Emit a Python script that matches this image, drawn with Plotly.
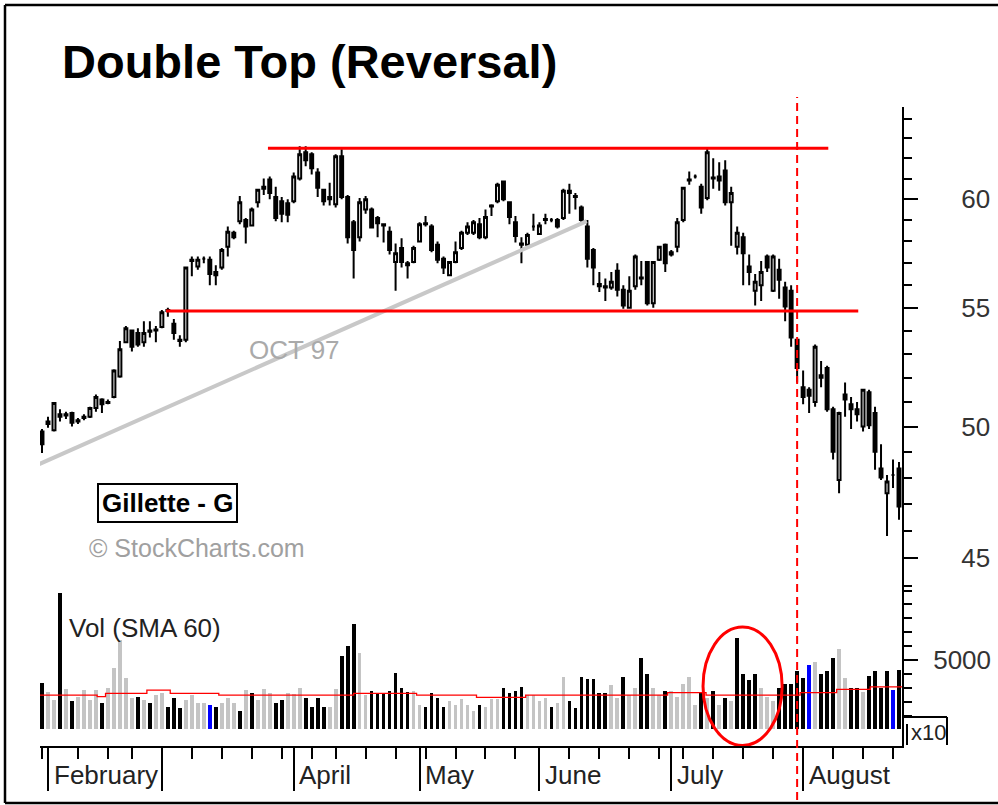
"""Double Top (Reversal) — Gillette daily candles with volume panel."""

import numpy as np
import pandas as pd
import plotly.graph_objects as go

START = "1998-01-30"
HOLIDAYS = ["1998-02-16", "1998-04-10", "1998-05-25", "1998-07-03"]

OPEN = [
    49.8, 50.1, 49.85, 50.5, 50.45, 50.55, 50.2, 50.35, 50.4, 50.75,
    51.1, 50.95, 51.2, 52.05, 53.5, 54.0, 53.9, 53.5, 53.95, 54.0,
    54.15, 54.9, 54.3, 53.55, 53.6, 57.1, 56.85, 57.2, 57.15, 56.6,
    56.8, 57.75, 58.4, 58.95, 59.0, 58.75, 59.85, 60.5, 60.95, 60.1,
    59.9, 59.8, 59.9, 61.0, 62.3, 62.2, 61.3, 60.45, 60.1, 59.75,
    62.1, 60.1, 58.9, 58.2, 59.5, 59.5, 59.1, 58.8, 58.45, 57.05,
    57.7, 57.0, 57.05, 58.0, 58.8, 58.7, 57.85, 57.2, 56.45, 57.05,
    57.7, 58.4, 58.4, 58.8, 58.2, 59.65, 59.9, 60.85, 59.85, 58.9,
    57.9, 57.85, 58.7, 58.35, 59.0, 59.0, 59.0, 59.1, 60.3, 60.15,
    59.6, 58.7, 57.6, 56.05, 55.95, 55.9, 56.65, 55.8, 55.0, 55.95,
    56.3, 57.05, 55.2, 57.15, 57.85, 57.4, 57.75, 59.0, 60.9, 61.1,
    60.6, 60.05, 61.0, 61.1, 61.4, 59.85, 57.75, 58.2, 56.85, 55.75,
    56.0, 57.3, 55.75, 56.7, 55.9, 55.75, 53.6, 51.6, 51.5, 51.0,
    52.1, 52.4, 50.7, 47.9, 51.3, 50.9, 50.7, 50.0, 51.4, 50.55,
    48.35, 47.4, 48.1, 48.35,
]
HIGH = [
    49.9, 50.4, 51.0, 50.7, 50.6, 50.6, 50.35, 50.5, 50.8, 51.3,
    51.15, 51.1, 52.35, 53.55, 54.2, 54.05, 54.1, 54.4, 54.4, 54.2,
    54.9, 55.0, 54.5, 53.8, 56.85, 57.3, 57.3, 57.3, 57.3, 56.9,
    57.7, 58.7, 58.5, 60.15, 59.1, 59.6, 60.5, 61.0, 61.1, 60.6,
    60.1, 60.0, 61.3, 62.6, 62.6, 62.3, 61.5, 60.5, 60.8, 62.2,
    62.45, 60.2, 59.0, 60.05, 60.15, 59.6, 59.2, 58.85, 58.7, 57.9,
    58.15, 57.1, 57.8, 58.9, 59.2, 58.8, 58.0, 57.3, 57.1, 58.0,
    58.5, 58.9, 59.0, 59.1, 59.5, 59.75, 60.8, 60.9, 59.9, 59.2,
    58.2, 58.4, 59.3, 58.9, 59.3, 59.1, 59.1, 60.5, 60.75, 60.3,
    59.7, 59.0, 57.7, 56.6, 56.3, 56.6, 57.0, 56.0, 56.4, 57.4,
    57.1, 57.1, 57.1, 57.8, 57.9, 57.6, 59.1, 60.6, 61.35, 61.2,
    60.75, 62.5, 62.0, 61.8, 61.9, 60.6, 58.7, 58.4, 57.4, 56.5,
    57.1, 57.4, 57.4, 57.2, 56.15, 56.0, 53.6, 52.3, 51.6, 53.4,
    52.7, 52.5, 50.8, 50.6, 51.8, 51.2, 51.0, 51.5, 51.5, 50.8,
    49.3, 48.1, 48.7, 48.6,
]
LOW = [
    48.95, 49.95, 49.8, 50.2, 50.3, 50.0, 50.1, 50.25, 50.35, 50.6,
    50.55, 50.9, 51.15, 52.0, 53.45, 53.1, 53.3, 53.3, 53.7, 53.5,
    54.1, 54.6, 53.6, 53.3, 53.5, 56.4, 56.7, 57.0, 56.0, 56.0,
    56.7, 57.3, 58.1, 58.8, 57.9, 58.7, 59.6, 60.2, 60.0, 58.95,
    58.9, 58.9, 59.8, 60.9, 61.6, 61.2, 60.1, 59.7, 59.7, 59.6,
    60.0, 57.9, 56.3, 58.0, 59.3, 58.6, 58.2, 57.95, 57.4, 55.75,
    56.8, 56.3, 57.0, 57.95, 58.7, 57.5, 57.0, 56.5, 56.4, 57.0,
    57.6, 58.3, 58.3, 58.1, 58.1, 59.2, 59.8, 59.9, 58.8, 57.95,
    57.0, 57.8, 58.5, 58.3, 58.8, 58.9, 58.6, 59.0, 59.3, 59.5,
    58.9, 56.8, 56.0, 55.7, 55.3, 55.8, 55.5, 54.95, 54.95, 55.8,
    56.0, 55.1, 55.0, 57.1, 56.6, 57.3, 57.5, 58.9, 60.7, 61.0,
    59.3, 59.95, 60.5, 60.4, 59.7, 57.8, 57.4, 56.0, 56.0, 55.1,
    55.3, 56.6, 55.7, 55.4, 54.4, 53.3, 51.8, 50.9, 50.55, 50.8,
    51.6, 50.6, 48.7, 47.4, 50.4, 49.9, 50.2, 49.8, 49.9, 48.3,
    47.9, 45.8, 47.6, 46.4,
]
CLOSE = [
    49.3, 50.2, 50.95, 50.4, 50.5, 50.15, 50.25, 50.4, 50.75, 51.2,
    50.9, 51.0, 52.3, 53.2, 54.1, 53.3, 53.4, 53.9, 54.0, 54.05,
    54.8, 54.85, 53.9, 53.6, 56.8, 57.15, 57.15, 57.2, 56.5, 56.45,
    57.6, 58.45, 58.2, 59.85, 58.7, 59.5, 60.45, 60.6, 60.3, 59.1,
    59.3, 59.25, 61.1, 62.2, 61.9, 61.5, 60.55, 59.9, 60.0, 62.1,
    60.1, 58.2, 57.6, 59.85, 60.0, 58.65, 58.85, 58.75, 57.6, 57.45,
    57.05, 56.9, 57.7, 58.8, 58.85, 57.6, 57.15, 56.8, 57.05, 57.5,
    58.4, 58.7, 58.9, 58.2, 59.15, 59.7, 60.7, 60.0, 59.15, 58.25,
    57.85, 58.3, 58.7, 58.75, 59.05, 59.0, 58.7, 60.4, 60.4, 60.1,
    59.0, 57.2, 56.8, 55.95, 55.9, 56.15, 55.8, 55.1, 55.75, 57.3,
    56.35, 55.2, 57.05, 57.75, 57.0, 57.5, 58.9, 60.55, 60.95, 61.1,
    59.6, 62.3, 61.05, 60.9, 59.85, 60.3, 58.4, 57.45, 56.6, 56.15,
    56.6, 56.8, 57.3, 56.25, 55.05, 53.7, 52.4, 51.2, 51.25, 53.3,
    52.0, 50.7, 49.0, 50.55, 51.1, 50.7, 50.5, 51.5, 50.05, 49.0,
    48.0, 47.85, 48.1, 46.9,
]

# volume in hundreds of shares (axis is "x10")
VOLUME = [
    3370, 2700, 2120, 9840, 2880, 2070, 2360, 2840, 2120, 2840,
    1930, 2960, 4400, 6440, 3680, 2240, 2360, 2120, 1930, 2480,
    2600, 1640, 2240, 1520, 2120, 2480, 1880, 1930, 1760, 1640,
    1930, 2240, 1930, 1350, 2840, 2650, 2120, 2880, 2600, 1930,
    2120, 2650, 2550, 2960, 2240, 1640, 2240, 1640, 1640, 2880,
    5280, 6000, 7600, 5520, 2480, 2790, 2600, 2600, 2790, 4090,
    2960, 2720, 2790, 1760, 1640, 2650, 2240, 1640, 2070, 1760,
    2190, 1760, 1330, 1760, 1640, 2190, 2190, 2960, 2650, 2790,
    3080, 2480, 2480, 2070, 2240, 1640, 1930, 3800, 2070, 1520,
    3800, 3660, 3660, 2650, 2650, 3200, 2240, 3800, 2480, 2960,
    5120, 3970, 2960, 2480, 2790, 2790, 2360, 3270, 3800, 1760,
    2600, 2240, 2790, 1760, 2240, 2070, 6560, 4000, 3560, 4000,
    2960, 2360, 2070, 2960, 3270, 3270, 4190, 3720, 4640, 4880,
    4000, 4190, 5150, 5760, 3720, 2960, 3000, 2720, 3870, 4190,
    3000, 4190, 2840, 4310,
]
# k = up volume (black), g = down volume (gray), b = blue
VOL_SHADE = (
    "kggkgkgggg" "kgggggkgkg" "gkkkggggbk" "gggkgkgggk" "kgggkkkkgg"
    "kkkggkkkkk" "kkggkkkkgg" "gggkgggkkk" "kggggkggkk" "kkkkkggkgg"
    "kkggkggggg" "kgkgkgkkkk" "gggkkkkkbg" "kkkggkkgkk" "kkbk"
)
SHADE_COLORS = {"k": "#000000", "g": "#c4c4c4", "b": "#0000ff"}

# 60-day volume average, read as a step line (day index, value)
SMA_DAY = [-0.33, 9.2, 10.6, 17.5, 21.4, 29.5, 52.0, 62.5, 72.5, 80.7, 104.4, 110.8, 126.5, 132.6, 138.2, 143.5]
SMA_VAL = [2480, 2360, 2600, 2840, 2600, 2480, 2600, 2480, 2310, 2480, 2650, 2480, 2650, 2890, 3070, 3070]

# pattern lines
TOP_LEVEL, TOP_SPAN = 62.5, (37.7, 131.2)
NECK_LEVEL, NECK_SPAN = 54.85, (20.7, 136.2)
TREND_DAY, TREND_PRICE = [-0.67, 90.9], [48.5, 58.95]
BREAK_DAY = 126.0
VOL_CIRCLE = dict(x0=110.3, x1=123.5, y0=-1150, y1=7370)

PRICE_TICKS = [45, 50, 55, 60]
PRICE_MINOR = list(range(44, 65))
VOL_TICKS = [5000, 10000]
VOL_TICKTEXT = ["5000", ""]
VOL_MINOR = list(range(1000, 10001, 1000))
MONTH_LABELS = {2: "February", 3: "", 4: "April", 5: "May", 6: "June", 7: "July", 8: "August"}

FONT = "Liberation Sans, Arial, sans-serif"
X_RANGE = [-0.334, 143.5]
PRICE_RANGE = [np.log10(43.86), np.log10(64.6)]
VOL_RANGE = [-1187, 10036]
PRICE_DOMAIN = [0.2441, 1.0]

W, H = 998, 805
PL, PR, PT, PB = 40, 902, 107, 746   # plot box in pixels


def px(x):
    return (x - PL) / (PR - PL)


def py(y):
    return (PB - y) / (PB - PT)


dates = pd.bdate_range(START, periods=len(CLOSE), freq="C", holidays=HOLIDAYS)
day = np.arange(len(CLOSE))
month_first = [i for i in day if i == 0 or dates[i].month != dates[i - 1].month]
week_no = dates.isocalendar().week.values
week_first = [i for i in day if i == 0 or week_no[i] != week_no[i - 1]]
month_ticks = [i for i in month_first if dates[i].month in MONTH_LABELS]

fig = go.Figure()

fig.add_trace(go.Scatter(
    x=TREND_DAY, y=TREND_PRICE, mode="lines",
    line=dict(color="#c8c8c8", width=4), yaxis="y", hoverinfo="skip",
))

fig.add_trace(go.Candlestick(
    x=day, open=OPEN, high=HIGH, low=LOW, close=CLOSE,
    increasing=dict(line=dict(color="#000000", width=2), fillcolor="#ffffff"),
    decreasing=dict(line=dict(color="#000000", width=2), fillcolor="#000000"),
    whiskerwidth=0, yaxis="y",
    text=[d.strftime("%b %d, %Y") for d in dates],
))

for level, span in [(TOP_LEVEL, TOP_SPAN), (NECK_LEVEL, NECK_SPAN)]:
    fig.add_trace(go.Scatter(
        x=list(span), y=[level, level], mode="lines",
        line=dict(color="#ff0000", width=3), yaxis="y", hoverinfo="skip",
    ))

fig.add_trace(go.Bar(
    x=day, y=VOLUME, width=0.62, yaxis="y2",
    marker=dict(color=[SHADE_COLORS[s] for s in VOL_SHADE], line=dict(width=0)),
))
fig.add_trace(go.Scatter(
    x=SMA_DAY, y=SMA_VAL, mode="lines", line=dict(color="#ff0000", width=1.3, shape="hv"),
    yaxis="y2", hoverinfo="skip",
))

fig.add_shape(type="circle", xref="x", yref="y2", line=dict(color="#ff0000", width=3), **VOL_CIRCLE)

break_x = (BREAK_DAY - X_RANGE[0]) / (X_RANGE[1] - X_RANGE[0])
fig.add_shape(type="line", xref="paper", yref="paper", x0=break_x, x1=break_x,
              y0=py(800), y1=py(97), line=dict(color="#ff0000", width=2, dash="8px,5px"))

# outer frame (left, top, bottom) and the x10 bracket
frame = [(5, 5, 5, 803), (5, 5, W, 5), (5, 803, W, 803)]
bracket = [(903, 717, 947, 717), (947, 717, 947, 745), (907, 724, 907, 745)]
for (x0, y0, x1, y1), width in [(seg, 2.5) for seg in frame] + [(seg, 2) for seg in bracket]:
    fig.add_shape(type="line", xref="paper", yref="paper", x0=px(x0), x1=px(x1), y0=py(y0), y1=py(y1),
                  line=dict(color="#000000", width=width))

annotations = [
    dict(text="<b>Double Top (Reversal)</b>", x=px(60), y=py(61), size=47, color="#000000"),
    dict(text="OCT 97", x=px(247), y=py(350), size=26, color="#aaaaaa"),
    dict(text="© StockCharts.com", x=px(87), y=py(548), size=25, color="#a0a0a0"),
    dict(text="Vol (SMA 60)", x=px(67), y=py(628), size=26, color="#222222"),
    dict(text="x10", x=px(909), y=py(732), size=22, color="#222222"),
]
for a in annotations:
    fig.add_annotation(text=a["text"], x=a["x"], y=a["y"], xref="paper", yref="paper",
                       xanchor="left", yanchor="middle", showarrow=False,
                       font=dict(family=FONT, size=a["size"], color=a["color"]))

fig.add_annotation(text="<b>Gillette - G</b>", x=px(167.5), y=py(503), xref="paper", yref="paper",
                   xanchor="center", yanchor="middle",
                   showarrow=False, bordercolor="#000000", borderwidth=2, borderpad=3,
                   bgcolor="#ffffff", font=dict(family=FONT, size=26, color="#000000"))

for i in month_ticks:
    label = MONTH_LABELS[dates[i].month]
    if label:
        fig.add_annotation(text=label, x=i + 0.6, y=py(775), xref="x", yref="paper",
                           xanchor="left", yanchor="middle", showarrow=False,
                           font=dict(family=FONT, size=26, color="#222222"))

fig.update_layout(
    width=W, height=H, autosize=False,
    margin=dict(l=PL, r=W - PR, t=PT, b=H - PB, autoexpand=False),
    paper_bgcolor="#ffffff", plot_bgcolor="#ffffff",
    showlegend=False, bargap=0,
    font=dict(family=FONT, color="#222222"),
    xaxis=dict(
        range=X_RANGE, anchor="y2", rangeslider=dict(visible=False), automargin=False,
        showgrid=False, zeroline=False, showline=True, linecolor="#000000", linewidth=2,
        tickmode="array", tickvals=month_ticks, ticks="outside", ticklen=43, tickwidth=2,
        tickcolor="#000000", showticklabels=False,
        minor=dict(tickvals=week_first, ticks="outside", ticklen=11, tickwidth=2, tickcolor="#000000"),
    ),
    yaxis=dict(
        domain=PRICE_DOMAIN, type="log", range=PRICE_RANGE, side="right", anchor="x", automargin=False,
        showgrid=False, zeroline=False, showline=True, linecolor="#000000", linewidth=2,
        tickmode="array", tickvals=PRICE_TICKS, ticktext=[str(v) for v in PRICE_TICKS],
        ticks="outside", ticklen=14, tickwidth=2, tickcolor="#000000", ticklabelstandoff=38,
        tickfont=dict(family=FONT, size=26, color="#333333"),
        minor=dict(tickvals=PRICE_MINOR, ticks="outside", ticklen=8, tickwidth=2, tickcolor="#000000"),
    ),
    yaxis2=dict(
        domain=[0, PRICE_DOMAIN[0]], range=VOL_RANGE, side="right", anchor="x", automargin=False,
        showgrid=False, zeroline=False, showline=True, linecolor="#000000", linewidth=2,
        tickmode="array", tickvals=VOL_TICKS, ticktext=VOL_TICKTEXT,
        ticks="outside", ticklen=14, tickwidth=2, tickcolor="#000000", ticklabelstandoff=10,
        tickfont=dict(family=FONT, size=26, color="#333333"),
        minor=dict(tickvals=VOL_MINOR, ticks="outside", ticklen=8, tickwidth=2, tickcolor="#000000"),
    ),
)

# no body margin, so the figure sits at the window's top-left corner
fig.write_html(
    "out.html",
    config={"displayModeBar": False, "responsive": False},
    post_script="document.body.style.margin='0';",
)
